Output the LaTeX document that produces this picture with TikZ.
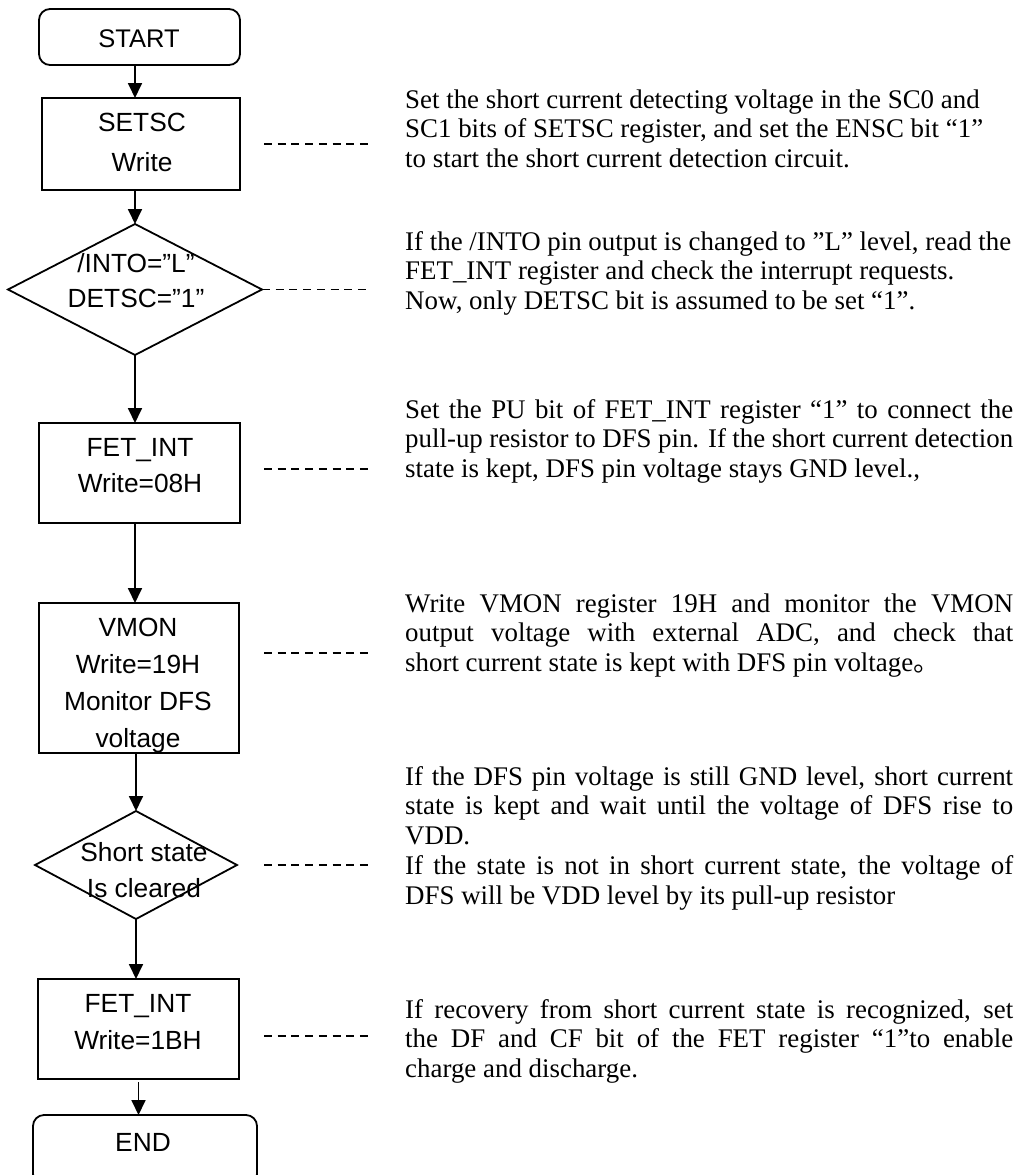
\documentclass[tikz,border=0pt]{standalone}
\usepackage{fontspec}
\setmainfont{Liberation Serif}
\newfontfamily\sansfnt{Liberation Sans}
\newfontfamily\serifrm{Liberation Serif}
\newfontfamily\cjkfnt{Noto Sans CJK SC}
\usetikzlibrary{shapes.geometric,arrows.meta}

% width of the explanatory paragraphs on the right
\newlength\notew
\setlength\notew{608pt}
% a justified line and a ragged line of the explanation blocks
\newcommand\jline[1]{\makebox[\notew][s]{#1}}
\newcommand\rline[1]{\makebox[\notew][l]{#1}}

\begin{document}
\begin{tikzpicture}[x=1pt,y=-1pt,
  shapeline/.style={draw=black,line width=1.8pt,inner sep=0pt,outer sep=0pt},
  procbox/.style={shapeline,rectangle},
  termbox/.style={shapeline,rectangle,rounded corners=11pt},
  decision/.style={shapeline,diamond},
  flowarrow/.style={line width=1.8pt,-{Triangle[length=15pt,width=14pt]}},
  leader/.style={line width=1.8pt,dash pattern=on 8pt off 5.7pt},
  boxtext/.style={inner sep=0pt,anchor=base},
  note/.style={inner sep=0pt,anchor=base west,
    font=\serifrm\fontsize{26.9}{29.9}\selectfont},
]
\useasboundingbox (0,0) rectangle (1015,1175);
\fill[white] (0,0) rectangle (1015,1175);
\clip (0,0) rectangle (1015,1175);

% ---------------- flow chart shapes ----------------
\node[termbox, minimum width=201pt, minimum height=56pt]  (start) at (139.5,37) {};
\node[procbox, minimum width=198pt, minimum height=92pt]  (setsc) at (141,144) {};
\node[decision,minimum width=254pt, minimum height=131pt] (d1)    at (135,289.5) {};
\node[procbox, minimum width=201pt, minimum height=100pt] (fet1)  at (139.5,473) {};
\node[procbox, minimum width=200pt, minimum height=150pt] (vmon)  at (139,678) {};
\node[decision,minimum width=202pt, minimum height=108pt] (d2)    at (136,865) {};
\node[procbox, minimum width=201pt, minimum height=100pt] (fet2)  at (138.5,1029) {};
\node[termbox, minimum width=224pt, minimum height=70pt]  (end)   at (145,1150) {};

% ---------------- texts inside the shapes ----------------
\node[boxtext,font=\sansfnt\fontsize{25.5}{30}\selectfont] (tstart) at (139,47) {START};
\node[boxtext,font=\sansfnt\fontsize{26.3}{40}\selectfont] (tsetsc) at (142,131)
  {\parbox[t]{240pt}{\centering SETSC\\Write}};
\node[boxtext,font=\sansfnt\fontsize{26.3}{35}\selectfont] (td1) at (136,272)
  {\parbox[t]{240pt}{\centering /INTO=”L”\\DETSC=”1”}};
\node[boxtext,font=\sansfnt\fontsize{26.3}{36}\selectfont] (tfet1) at (140,456)
  {\parbox[t]{240pt}{\centering FET\_INT\\Write=08H}};
\node[boxtext,font=\sansfnt\fontsize{26.3}{37}\selectfont] (tvmon) at (138,636)
  {\parbox[t]{240pt}{\centering VMON\\Write=19H\\Monitor DFS\\voltage}};
\node[boxtext,font=\sansfnt\fontsize{26.3}{36}\selectfont] (td2) at (144,861)
  {\parbox[t]{240pt}{\centering Short state\\Is cleared}};
\node[boxtext,font=\sansfnt\fontsize{26.3}{37}\selectfont] (tfet2) at (138,1012)
  {\parbox[t]{240pt}{\centering FET\_INT\\Write=1BH}};
\node[boxtext,font=\sansfnt\fontsize{26.3}{30}\selectfont] (tend) at (143,1151) {END};

% ---------------- connectors ----------------
\draw[flowarrow] (start.south -| d1.north) -- (setsc.north -| d1.north);
\draw[flowarrow] (setsc.south -| d1.north) -- (d1.north);
\draw[flowarrow] (d1.south) -- (fet1.north -| d1.south);
\draw[flowarrow] (fet1.south -| d1.south) -- (vmon.north -| d1.south);
\draw[flowarrow] (vmon.south -| d2.north) -- (d2.north);
\draw[flowarrow] (d2.south) -- (fet2.north -| d2.south);
\draw[flowarrow,shorten <=3pt] (fet2.south) -- (end.north -| fet2.south);

% ---------------- dashed leaders to the explanations ----------------
\coordinate (la) at (264,0);
\coordinate (lb) at (368,0);
\draw[leader] (la |- setsc.east) -- (lb |- setsc.east);
\draw[leader] (d1.east) -- (lb |- d1.east);
\draw[leader] (la |- 0,469) -- (lb |- 0,469);
\draw[leader] (la |- 0,653) -- (lb |- 0,653);
\draw[leader] (la |- d2.east) -- (lb |- d2.east);
\draw[leader] (la |- 0,1036) -- (lb |- 0,1036);

% ---------------- explanations ----------------
\node[note] (n1) at (405,108) {\parbox[t]{\notew}{%
  \rline{Set the short current detecting voltage in the SC0 and}\\
  \rline{SC1 bits of SETSC register, and set the ENSC bit “1”}\\
  \rline{to start the short current detection circuit.}}};

\node[note] (n2) at (405,250) {\parbox[t]{\notew}{%
  \rline{If the /INTO pin output is changed to ”L” level, read the}\\
  \rline{FET\_INT register and check the interrupt requests.}\\
  \rline{Now, only DETSC bit is assumed to be set “1”.}}};

\node[note] (n3) at (405,418) {\parbox[t]{\notew}{%
  \jline{Set the PU bit of FET\_INT register “1” to connect the}\\
  \jline{pull-up resistor to DFS pin. If the short current detection}\\
  \rline{state is kept, DFS pin voltage stays GND level.,}}};

\node[note] (n4) at (405,612) {\parbox[t]{\notew}{%
  \jline{Write VMON register 19H and monitor the VMON}\\
  \jline{output voltage with external ADC, and check that}\\
  \rline{short current state is kept with DFS pin voltage{\cjkfnt 。}}}};

\node[note] (n5) at (405,785) {\parbox[t]{\notew}{%
  \jline{If the DFS pin voltage is still GND level, short current}\\
  \jline{state is kept and wait until the voltage of DFS rise to}\\
  \rline{VDD.}\\
  \jline{If the state is not in short current state, the voltage of}\\
  \rline{DFS will be VDD level by its pull-up resistor}}};

\node[note] (n6) at (405,1018) {\parbox[t]{\notew}{%
  \jline{If recovery from short current state is recognized, set}\\
  \jline{the DF and CF bit of the FET register “1”to enable}\\
  \rline{charge and discharge.}}};
\end{tikzpicture}
\end{document}
